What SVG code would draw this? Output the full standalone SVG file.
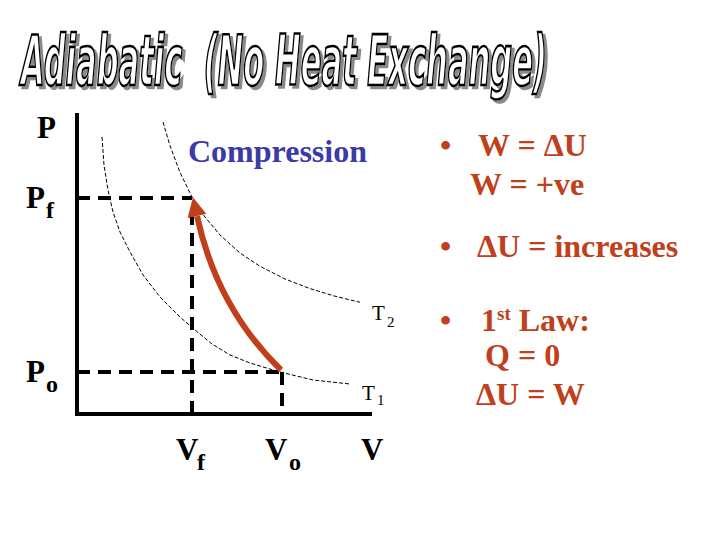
<svg xmlns="http://www.w3.org/2000/svg" width="720" height="540" viewBox="0 0 720 540">
<style>
.title{font-family:"DejaVu Sans Condensed","Liberation Sans Narrow",sans-serif;font-weight:bold;font-style:italic;font-size:48px;white-space:pre}
.lab{font-family:"Liberation Serif","Times New Roman",serif;font-weight:bold;font-size:31px;fill:#000}
.sub{font-family:"Liberation Serif","Times New Roman",serif;font-weight:bold;font-size:24px;fill:#000}
.t{font-family:"Liberation Serif","Times New Roman",serif;font-size:21px;fill:#000}
.ts{font-family:"Liberation Serif","Times New Roman",serif;font-size:15px;fill:#000}
.red{font-family:"Liberation Serif","Times New Roman",serif;font-weight:bold;font-size:32px;fill:#c0401c}
.blue{font-family:"Liberation Serif","Times New Roman",serif;font-weight:bold;font-size:32px;fill:#3a3aa8}
.axis{stroke:#000;stroke-width:4;fill:none}
.dash{stroke:#000;stroke-width:4;stroke-dasharray:13 8;fill:none}
.iso{stroke:#000;stroke-width:1;stroke-dasharray:4 2;fill:none}
</style>
<defs>
<marker id="ah" viewBox="0 0 10 10" refX="0" refY="5" markerWidth="3.2" markerHeight="3.2" orient="auto" markerUnits="strokeWidth">
<path d="M0,0 L10,5 L0,10 z" fill="#c0401c"/>
</marker>
<filter id="shadow" filterUnits="userSpaceOnUse" x="0" y="0" width="720" height="90">
<feOffset in="SourceAlpha" dx="3" dy="2" result="off"/>
<feFlood flood-color="#8a8a8a"/>
<feComposite in2="off" operator="in" result="sh"/>
<feMerge><feMergeNode in="sh"/><feMergeNode in="SourceGraphic"/></feMerge>
</filter>
</defs>
<rect width="720" height="540" fill="#fff"/>
<g id="title" transform="scale(1,1.45)">
<text class="title" x="21" y="58.6" fill="#fff" stroke="#000" stroke-width="1.8" filter="url(#shadow)" textLength="526" lengthAdjust="spacingAndGlyphs">Adiabatic  (No Heat Exchange)</text>
</g>
<g id="axes">
<path class="axis" d="M77,113 V414 H372"/>
</g>
<g id="connectors">
<polyline class="iso" points="163,122 170,145.7 180,172.5 192,197 205,217 220,235 240,253 260,266.3 285,279 310,288.6 335,296.2 360,302.3"/>
<polyline class="iso" points="102,137 104,165 108,190 113,212 120,232 130,252 143,275 160,297 180,317 195,330 212,344 230,355 250,363 280,372 313,380 350,384"/>
<path class="dash" d="M77,198 H192"/>
<path class="dash" d="M192,212 V414"/>
<path class="dash" d="M77,372 H282"/>
<path class="dash" d="M282,372 V406"/>
<path d="M281,370 C245,335 212,285 197,216" stroke="#c0401c" stroke-width="6" fill="none" marker-end="url(#ah)"/>
</g>
<g id="labels">
<text class="lab" x="37" y="138">P</text>
<text class="lab" x="26" y="208">P</text><text class="sub" x="46" y="218">f</text>
<text class="lab" x="26" y="382">P</text><text class="sub" x="46" y="392">o</text>
<text class="lab" x="176" y="460">V</text><text class="sub" x="197" y="470">f</text>
<text class="lab" x="265" y="460">V</text><text class="sub" x="289" y="470">o</text>
<text class="lab" x="361" y="460">V</text>
<text class="t" x="372" y="320">T</text><text class="ts" x="387" y="327">2</text>
<text class="t" x="362" y="400">T</text><text class="ts" x="377" y="405">1</text>
<text class="blue" x="188" y="162">Compression</text>
</g>
<g id="notes">
<text class="red" x="440" y="156">•</text><text class="red" x="478" y="156">W = ΔU</text>
<text class="red" x="470" y="195">W = +ve</text>
<text class="red" x="440" y="257">•</text><text class="red" x="477" y="257">ΔU = increases</text>
<text class="red" x="440" y="331">•</text><text class="red" x="481" y="331">1<tspan font-size="19" dy="-11">st</tspan><tspan dy="11"> Law:</tspan></text>
<text class="red" x="485" y="366">Q = 0</text>
<text class="red" x="476" y="405">ΔU = W</text>
</g>
</svg>
